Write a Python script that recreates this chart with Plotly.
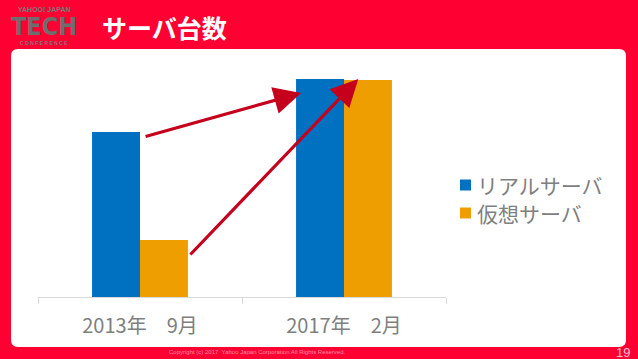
import plotly.graph_objects as go

categories = ["2013年　9月", "2017年　2月"]
real_servers = [165, 218]
virtual_servers = [57, 217]
series_names = ["リアルサーバ", "仮想サーバ"]
series_colors = ["#0070C0", "#EE9E00"]

W, H = 638, 359
L, R, T, B = 38, 192, 60, 62
PW, PH = W - L - R, H - T - B
YMAX = 237

def px(x):
    return (x - L) / PW

def py(y):
    return (H - B - y) / PH

fig = go.Figure()
fig.add_bar(x=categories, y=real_servers, name=series_names[0], marker_color=series_colors[0],
            marker_line_width=0)
fig.add_bar(x=categories, y=virtual_servers, name=series_names[1], marker_color=series_colors[1],
            marker_line_width=0)

# rounded white panel
x0, x1, y0, y1, r = 11, 626, 49, 347, 7
path = (f"M {px(x0+r)},{py(y0)} L {px(x1-r)},{py(y0)} Q {px(x1)},{py(y0)} {px(x1)},{py(y0+r)} "
        f"L {px(x1)},{py(y1-r)} Q {px(x1)},{py(y1)} {px(x1-r)},{py(y1)} "
        f"L {px(x0+r)},{py(y1)} Q {px(x0)},{py(y1)} {px(x0)},{py(y1-r)} "
        f"L {px(x0)},{py(y0+r)} Q {px(x0)},{py(y0)} {px(x0+r)},{py(y0)} Z")
fig.add_shape(type="path", path=path, xref="paper", yref="paper",
              fillcolor="white", line_width=0, layer="below")

arrow_color = "#C4001C"
fig.add_annotation(x=0.79, y=real_servers[1] - 14, ax=0.02, ay=real_servers[0] - 5,
                   xref="x", yref="y", axref="x", ayref="y", text="", showarrow=True,
                   arrowhead=2, arrowsize=1.7, arrowwidth=3.2, arrowcolor=arrow_color)
fig.add_annotation(x=1.07, y=virtual_servers[1] + 1, ax=0.24, ay=virtual_servers[0] - 16,
                   xref="x", yref="y", axref="x", ayref="y", text="", showarrow=True,
                   arrowhead=2, arrowsize=1.7, arrowwidth=3.2, arrowcolor=arrow_color)

def note(x, y, text, size, color, family, xanchor="center", pad=1):
    fig.add_annotation(x=px(x), y=py(y), xref="paper", yref="paper", xanchor=xanchor,
                       yanchor="middle", text=text, showarrow=False, borderpad=pad,
                       font=dict(size=size, color=color, family=family))

# title
note(100, 27, "<b>サーバ台数</b>", 25, "white", "Noto Sans CJK JP", "left")
# logo
note(44, 10, "<b>YAHOO! JAPAN</b>", 7, "#7a7a7a", "Liberation Sans")
note(44, 27, "<b>TECH</b>", 25, "#6e6e6e", "DejaVu Sans Condensed")
note(44, 43, "<b>C O N F E R E N C E</b>", 5, "#7a7a7a", "Liberation Sans")
# footer
note(257, 352, "Copyright (c) 2017  Yahoo Japan Corporation All Rights Reserved.",
     6, "#FF8FA3", "Liberation Sans")
note(632, 352, "19", 13, "#FFC0CC", "Liberation Sans", "right")

# legend drawn manually
for i, (name, col) in enumerate(zip(series_names, series_colors)):
    yc = 185 + i * 28
    fig.add_shape(type="rect", xref="paper", yref="paper",
                  x0=px(460), x1=px(471), y0=py(yc - 5.5), y1=py(yc + 5.5),
                  fillcolor=col, line_width=0)
    note(476, yc, name, 21, "#7F7F7F", "Noto Sans CJK JP", "left", pad=0)

fig.update_layout(
    width=W, height=H,
    margin=dict(l=L, r=R, t=T, b=B),
    paper_bgcolor="#FF0033",
    plot_bgcolor="white",
    barmode="group",
    bargap=0.53,
    bargroupgap=0,
    showlegend=False,
    xaxis=dict(range=[-0.5, 1.5], showline=True, linecolor="#D9D9D9", linewidth=1,
               ticks="outside", tickson="boundaries", ticklen=6, tickcolor="#D9D9D9",
               showgrid=False, zeroline=False, ticklabelstandoff=11,
               tickfont=dict(size=20, color="#7F7F7F", family="Noto Sans CJK JP")),
    yaxis=dict(range=[0, YMAX], visible=False, showgrid=False),
)

fig.write_html("out.html", config={"displayModeBar": False},
               post_script="document.body.style.margin='0';")
